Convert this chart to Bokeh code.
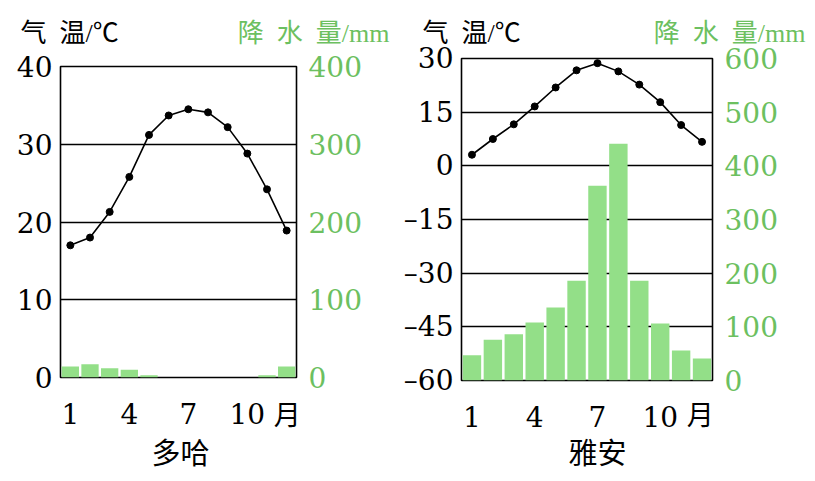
from bokeh.plotting import figure
from bokeh.models import Range1d, LinearAxis, FixedTicker, Label
from bokeh.layouts import row, column
from bokeh.embed import file_html
from bokeh.resources import INLINE

months = list(range(1, 13))
month_ticks = [1, 4, 7, 10]

doha_temp = [17.0, 18.0, 21.3, 25.8, 31.2, 33.7, 34.5, 34.1, 32.2, 28.8, 24.2, 18.9]
doha_prec = [14, 17, 12, 10, 3, 0, 0, 0, 0, 0, 3, 14]
doha_temp_ticks = [0, 10, 20, 30, 40]
doha_prec_ticks = [0, 100, 200, 300, 400]

yaan_temp = [3.1, 7.5, 11.6, 16.6, 21.9, 26.7, 28.7, 26.4, 22.7, 17.8, 11.4, 6.7]
yaan_prec = [47, 76, 86, 108, 136, 186, 363, 441, 186, 106, 56, 41]
yaan_temp_ticks = [-60, -45, -30, -15, 0, 15, 30]
yaan_prec_ticks = [0, 100, 200, 300, 400, 500, 600]

temp_title = "气\u2002温/℃"
prec_title = "降\u2002水\u2002量/mm"
month_unit = "月"

SERIF = "DejaVu Serif"
CJK = "Noto Sans CJK SC"
TITLE_FONT = "Liberation Serif, Noto Sans CJK SC"
GREEN_TEXT = "#6cc060"
GREEN_BAR = "#93df88"


def panel(name, temp, prec, tticks, pticks, left, fw, right, top, fh, bottom,
          title_x, prec_title_x, name_x):
    p = figure(frame_width=fw, frame_height=fh,
               min_border_left=left, min_border_right=right,
               min_border_top=top, min_border_bottom=bottom,
               x_range=Range1d(0.5, 12.5),
               y_range=Range1d(tticks[0], tticks[-1]),
               output_backend="svg", toolbar_location=None)
    p.extra_y_ranges = {"prec": Range1d(pticks[0], pticks[-1])}
    p.outline_line_color = "black"
    p.outline_line_width = 1.6
    p.outline_line_alpha = 1.0

    p.xgrid.visible = False
    p.ygrid.ticker = FixedTicker(ticks=tticks)
    p.ygrid.grid_line_color = "black"
    p.ygrid.grid_line_width = 1.4

    ya = p.yaxis[0]
    ya.ticker = FixedTicker(ticks=tticks)
    ya.major_label_overrides = {t: (str(t).replace("-", "\u2013")) for t in tticks}
    ya.axis_line_color = None
    ya.major_tick_line_color = None
    ya.minor_tick_line_color = None
    ya.major_tick_out = 0
    ya.major_label_standoff = 8
    ya.major_label_text_font = SERIF
    ya.major_label_text_font_size = "28px"
    ya.major_label_text_color = "black"

    ra = LinearAxis(y_range_name="prec", ticker=FixedTicker(ticks=pticks))
    ra.axis_line_color = None
    ra.major_tick_line_color = None
    ra.minor_tick_line_color = None
    ra.major_tick_out = 0
    ra.major_label_standoff = 12
    ra.major_label_text_font = SERIF
    ra.major_label_text_font_size = "28px"
    ra.major_label_text_color = GREEN_TEXT
    p.add_layout(ra, "right")

    xa = p.xaxis[0]
    xa.ticker = FixedTicker(ticks=month_ticks)
    xa.axis_line_color = None
    xa.major_tick_line_color = None
    xa.minor_tick_line_color = None
    xa.major_tick_out = 0
    xa.major_label_standoff = 25
    xa.major_label_text_font = SERIF
    xa.major_label_text_font_size = "28px"
    xa.major_label_text_color = "black"

    p.vbar(x=months, top=prec, bottom=0, width=0.88, y_range_name="prec",
           fill_color=GREEN_BAR, line_color=None)
    p.line(months, temp, line_color="black", line_width=1.6)
    p.scatter(months, temp, size=7, fill_color="black", line_color="black")

    p.add_layout(Label(x=title_x, y=33, x_units="canvas", y_units="canvas",
                       text=temp_title, text_font=TITLE_FONT, text_font_size="26px",
                       text_color="black", text_baseline="middle", text_align="left"),
                 "above")
    p.add_layout(Label(x=prec_title_x, y=33, x_units="canvas", y_units="canvas",
                       text=prec_title, text_font=TITLE_FONT, text_font_size="26px",
                       text_color=GREEN_TEXT, text_baseline="middle", text_align="right"),
                 "above")
    p.add_layout(Label(x=name_x, y=450, x_units="canvas", y_units="canvas",
                       text=name, text_font=CJK, text_font_size="29px",
                       text_color="black", text_baseline="middle", text_align="center"),
                 "below")
    p.add_layout(Label(x=month_ticks[-1], y=413, x_units="data", y_units="canvas",
                       x_offset=40, text=month_unit, text_font=CJK, text_font_size="27px",
                       text_color="black", text_baseline="middle", text_align="center"),
                 "right")
    return p


p1 = panel("多哈", doha_temp, doha_prec, doha_temp_ticks, doha_prec_ticks,
           60, 236, 104, 66, 311, 96, 20, 389, 180)
p2 = panel("雅安", yaan_temp, yaan_prec, yaan_temp_ticks, yaan_prec_ticks,
           60, 251, 96, 57, 322, 94, 22, 405, 197)

layout = row(column(p1), column(p2))
open("out.html", "w").write(file_html(layout, INLINE))
